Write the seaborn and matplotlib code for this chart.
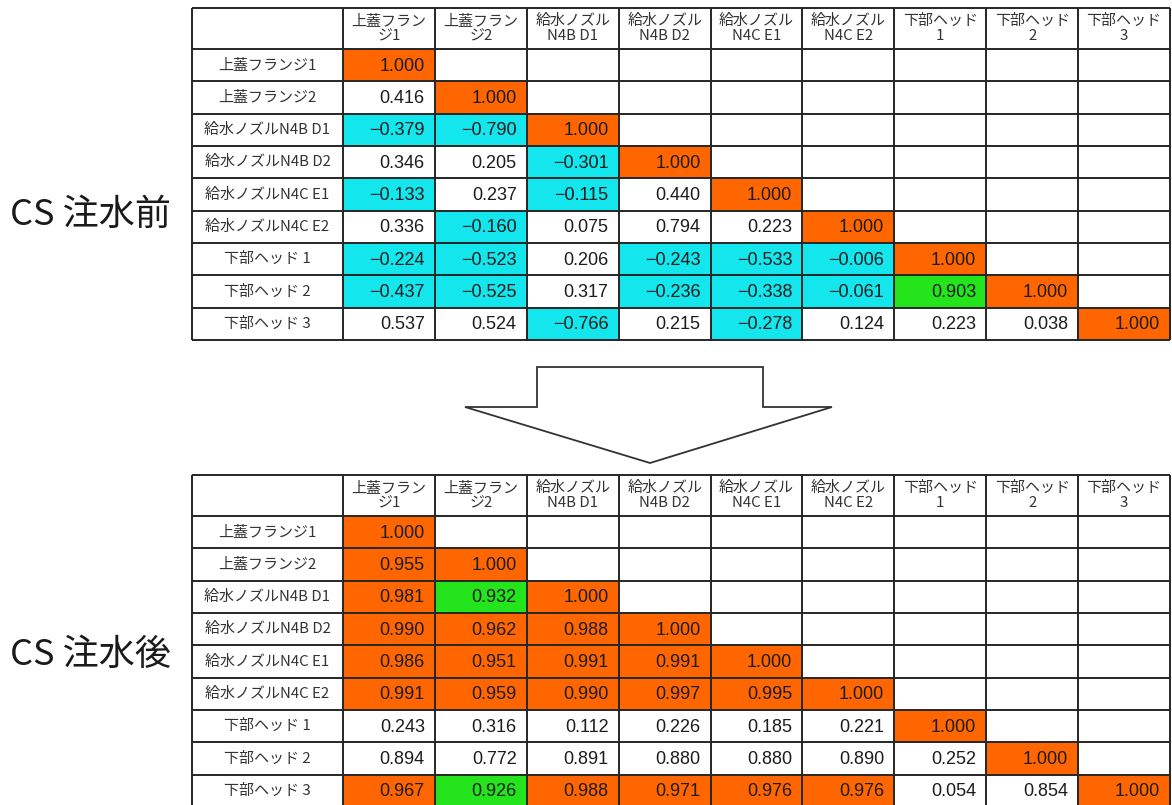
import numpy as np
import pandas as pd
import seaborn as sns
import matplotlib.pyplot as plt
from matplotlib.colors import ListedColormap, BoundaryNorm
from matplotlib.patches import Polygon

col_labels = ['上蓋フラン\nジ1', '上蓋フラン\nジ2', '給水ノズル\nN4B D1', '給水ノズル\nN4B D2',
              '給水ノズル\nN4C E1', '給水ノズル\nN4C E2', '下部ヘッド\n1', '下部ヘッド\n2', '下部ヘッド\n3']
row_labels = ['上蓋フランジ1', '上蓋フランジ2', '給水ノズルN4B D1', '給水ノズルN4B D2',
              '給水ノズルN4C E1', '給水ノズルN4C E2', '下部ヘッド 1', '下部ヘッド 2', '下部ヘッド 3']

# lower triangle of the correlation matrices, row by row
before = [
    [1.000],
    [0.416, 1.000],
    [-0.379, -0.790, 1.000],
    [0.346, 0.205, -0.301, 1.000],
    [-0.133, 0.237, -0.115, 0.440, 1.000],
    [0.336, -0.160, 0.075, 0.794, 0.223, 1.000],
    [-0.224, -0.523, 0.206, -0.243, -0.533, -0.006, 1.000],
    [-0.437, -0.525, 0.317, -0.236, -0.338, -0.061, 0.903, 1.000],
    [0.537, 0.524, -0.766, 0.215, -0.278, 0.124, 0.223, 0.038, 1.000],
]
after = [
    [1.000],
    [0.955, 1.000],
    [0.981, 0.932, 1.000],
    [0.990, 0.962, 0.988, 1.000],
    [0.986, 0.951, 0.991, 0.991, 1.000],
    [0.991, 0.959, 0.990, 0.997, 0.995, 1.000],
    [0.243, 0.316, 0.112, 0.226, 0.185, 0.221, 1.000],
    [0.894, 0.772, 0.891, 0.880, 0.880, 0.890, 0.252, 1.000],
    [0.967, 0.926, 0.988, 0.971, 0.976, 0.976, 0.054, 0.854, 1.000],
]
titles = ['CS 注水前', 'CS 注水後']

# negative -> cyan, 0.9-0.95 -> green, >=0.95 -> orange
cmap = ListedColormap(['#14E6EE', '#FFFFFF', '#24E41C', '#FF6600'])
norm = BoundaryNorm([-1.0, 0.0, 0.9, 0.95, 1.001], cmap.N)

sns.set_style('white')
plt.rcParams['font.family'] = ['Noto Sans CJK JP', 'DejaVu Sans']

W, H = 1172, 805
fig = plt.figure(figsize=(W / 100, H / 100), dpi=100)

LABW = 1.643   # width of the label column in cell units
HEADH = 1.27   # height of the header row in cell units
LC = '#262626'


def to_frame(rows):
    m = np.full((9, 9), np.nan)
    for i, r in enumerate(rows):
        m[i, :len(r)] = r
    return pd.DataFrame(m, index=row_labels, columns=col_labels)


def draw_table(rows, top_px, title, title_y):
    df = to_frame(rows)
    ax = fig.add_axes([192 / W, 1 - (top_px + 332) / H, 978 / W, 332 / H])
    txt = np.array([['' if np.isnan(v) else f'{v:.3f}'.replace('-', '\u2212') for v in r]
                    for r in df.values])
    sns.heatmap(df, ax=ax, cmap=cmap, norm=norm, mask=df.isna(), annot=txt, fmt='',
                cbar=False, xticklabels=False, yticklabels=False,
                annot_kws=dict(fontsize=13, family='Liberation Sans', color='#1c1c1c'))
    for t in ax.texts:
        x, y = t.get_position()
        t.set_position((x + 0.39, y + 0.03))
        t.set_ha('right')
    ax.set_xlim(-LABW, 9)
    ax.set_ylim(9, -HEADH)
    ax.set_xlabel('')
    ax.set_ylabel('')
    # table grid
    ax.hlines([-HEADH] + list(range(10)), -LABW, 9, color=LC, lw=1.4, clip_on=False)
    ax.vlines([-LABW] + list(range(10)), -HEADH, 9, color=LC, lw=1.4, clip_on=False)
    for j, c in enumerate(col_labels):
        ax.text(j + 0.5, -HEADH / 2, c, ha='center', va='center', fontsize=10.8,
                color='#333333', linespacing=1.15)
    for i, r in enumerate(row_labels):
        ax.text(-LABW / 2, i + 0.5, r, ha='center', va='center', fontsize=10.8,
                color='#333333')
    fig.text(90 / W, 1 - title_y / H, title, ha='center', va='center', fontsize=26,
             color='#1a1a1a')


draw_table(before, 8, titles[0], 215)
draw_table(after, 475, titles[1], 655)

# big down arrow between the tables
pts = [(465, 407), (537, 407), (537, 367), (763, 367), (763, 407), (832, 407), (650, 463)]
fig.patches.append(Polygon([(x / W, 1 - y / H) for x, y in pts], closed=True,
                           facecolor='white', edgecolor='#333333', lw=1.3,
                           transform=fig.transFigure))

fig.savefig('out.png', dpi=100)
